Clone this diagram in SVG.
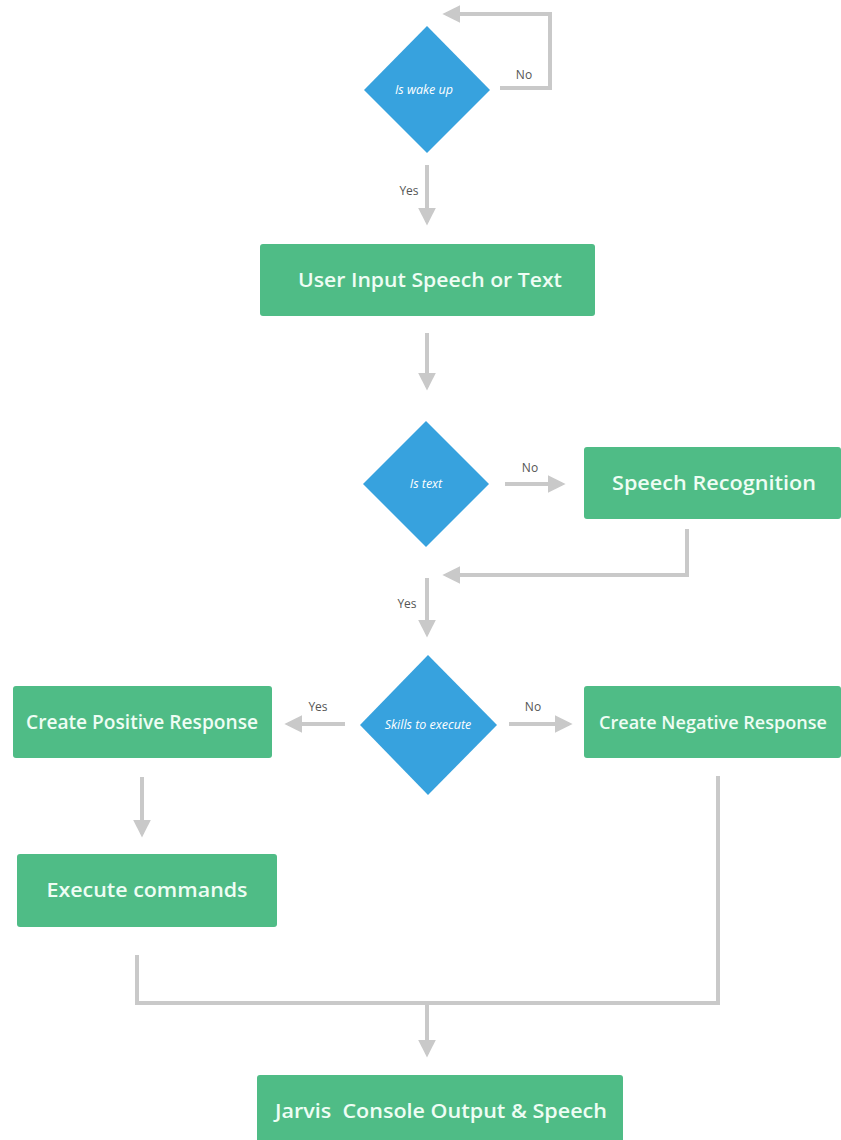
<svg xmlns="http://www.w3.org/2000/svg" width="841" height="1140" viewBox="0 0 841 1140">
<defs>
<style>
.box{fill:#4fbc86;}
.dia{fill:#37a2de;}
.bt{font-family:"Open Sans","Liberation Sans",sans-serif;font-weight:600;font-size:19.5px;fill:#eefdf4;text-anchor:middle;white-space:pre;}
.dt{font-family:"Open Sans","Liberation Sans",sans-serif;font-style:italic;font-size:12.5px;fill:#ffffff;text-anchor:middle;}
.lbl{font-family:"Open Sans","Liberation Sans",sans-serif;font-size:12px;fill:#555555;text-anchor:middle;}
.con{fill:none;stroke:#c9c9c9;stroke-width:4;}
</style>
<marker id="ah" viewBox="0 0 10 10" refX="8" refY="5" markerWidth="4.5" markerHeight="4.5" orient="auto" markerUnits="strokeWidth">
<path d="M0,0 L10,5 L0,10 z" fill="#c9c9c9"/>
</marker>
</defs>
<rect width="841" height="1140" fill="#ffffff"/>

<g id="connectors">
<polyline class="con" points="500,88 550,88 550,14 446,14" marker-end="url(#ah)"/>
<line class="con" x1="427" y1="165" x2="427" y2="222" marker-end="url(#ah)"/>
<line class="con" x1="427" y1="333" x2="427" y2="387" marker-end="url(#ah)"/>
<line class="con" x1="505" y1="484" x2="562" y2="484" marker-end="url(#ah)"/>
<polyline class="con" points="687,529 687,575 446,575" marker-end="url(#ah)"/>
<line class="con" x1="427" y1="578" x2="427" y2="634" marker-end="url(#ah)"/>
<line class="con" x1="509" y1="724" x2="569" y2="724" marker-end="url(#ah)"/>
<line class="con" x1="345" y1="724" x2="288" y2="724" marker-end="url(#ah)"/>
<line class="con" x1="142" y1="777" x2="142" y2="834" marker-end="url(#ah)"/>
<polyline class="con" points="137,955 137,1003 718,1003 718,776"/>
<line class="con" x1="427" y1="1003" x2="427" y2="1054" marker-end="url(#ah)"/>
<text class="lbl" x="524" y="79">No</text>
<text class="lbl" x="409" y="195">Yes</text>
<text class="lbl" x="530" y="472">No</text>
<text class="lbl" x="407" y="608">Yes</text>
<text class="lbl" x="533" y="711">No</text>
<text class="lbl" x="318" y="711">Yes</text>
</g>

<g id="is-wake-up">
<polygon class="dia" points="427,26 490,90 427,153 364,90"/>
<text class="dt" x="424" y="94">Is wake up</text>
</g>

<g id="user-input">
<rect class="box" x="260" y="244" width="335" height="72" rx="3"/>
<text class="bt" x="430" y="287" textLength="264" lengthAdjust="spacingAndGlyphs">User Input Speech or Text</text>
</g>

<g id="is-text">
<polygon class="dia" points="426,421 489,484 426,547 363,484"/>
<text class="dt" x="426" y="488">Is text</text>
</g>

<g id="speech-recognition">
<rect class="box" x="584" y="447" width="257" height="72" rx="3"/>
<text class="bt" x="714" y="490" textLength="204" lengthAdjust="spacingAndGlyphs">Speech Recognition</text>
</g>

<g id="skills-to-execute">
<polygon class="dia" points="428,655 497,725 428,795 360,725"/>
<text class="dt" x="428" y="729">Skills to execute</text>
</g>

<g id="positive-response">
<rect class="box" x="13" y="686" width="259" height="72" rx="3"/>
<text class="bt" x="142" y="729" textLength="232" lengthAdjust="spacingAndGlyphs">Create Positive Response</text>
</g>

<g id="negative-response">
<rect class="box" x="584" y="686" width="257" height="72" rx="3"/>
<text class="bt" x="713" y="729" style="font-size:18.5px" textLength="228" lengthAdjust="spacingAndGlyphs">Create Negative Response</text>
</g>

<g id="execute-commands">
<rect class="box" x="17" y="854" width="260" height="73" rx="3"/>
<text class="bt" x="147" y="897" textLength="201" lengthAdjust="spacingAndGlyphs">Execute commands</text>
</g>

<g id="jarvis-output">
<rect class="box" x="257" y="1075" width="366" height="72" rx="3"/>
<text class="bt" x="441" y="1118" textLength="332" lengthAdjust="spacingAndGlyphs">Jarvis  Console Output &amp; Speech</text>
</g>
</svg>
